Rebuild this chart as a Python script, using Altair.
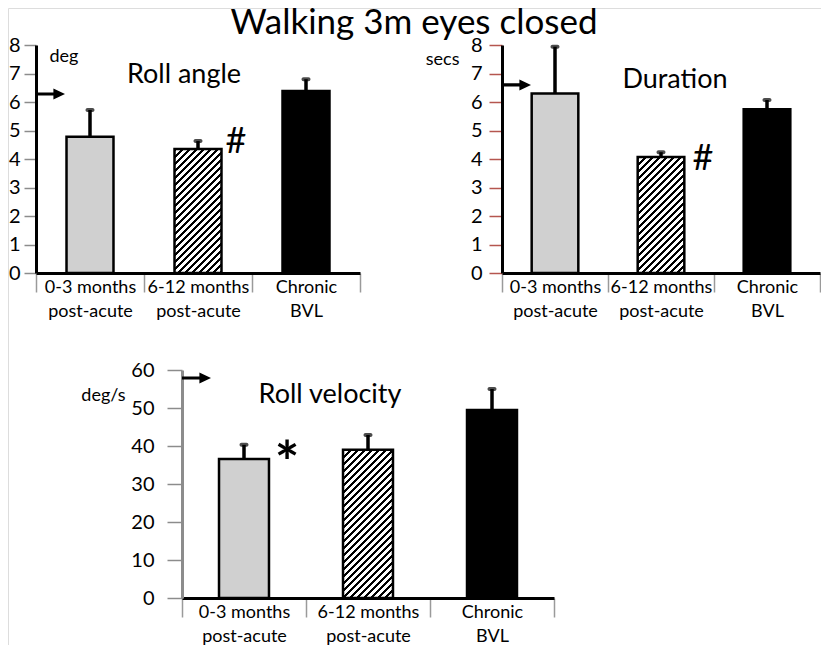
import altair as alt
import pandas as pd

# ---------------- data ----------------
main_title = ["Walking 3m eyes closed"]
categories = ["0-3 months\npost-acute", "6-12 months\npost-acute", "Chronic\nBVL"]
fill_styles = ["dotted", "hatched", "solid"]

roll_angle = [4.78, 4.35, 6.39]
roll_angle_err = [0.94, 0.28, 0.41]
duration = [6.30, 4.07, 5.75]
duration_err = [1.64, 0.17, 0.32]
roll_velocity = [36.6, 39.0, 49.5]
roll_velocity_err = [3.7, 3.9, 5.5]

panel_titles = ["Roll angle", "Duration", "Roll velocity"]
unit_labels = ["deg", "secs", "deg/s"]
axis_max = [8, 8, 60]
axis_step = [1, 1, 10]
arrow_levels = [6.28, 6.6, 57.9]
sig_symbols = ["#", "#", "*"]
sig_bar = [1, 1, 0]

# ---------------- layout / style ----------------
FONT = "Lato"
W, H = 813, 637
ARROW = "M-1,-0.11L0.2,-0.11L0.2,-0.38L1,0L0.2,0.38L0.2,0.11L-1,0.11Z"

panels_cfg = [
    dict(xr=[28, 352], yr=[265, 37], frac=0.435, tick_color="#8c8c8c", dom_color="black",
         ytick=12, ypad=4, tX=13, tY=53, tAlign="left",
         title_dx=-14, title_dy=38, sig_dx=38, sig_dy=4, sig_size=36, sig_weight="normal"),
    dict(xr=[494, 812], yr=[265, 37], frac=0.44, tick_color="#b5564f", dom_color="black",
         ytick=13, ypad=7, tX=-43, tY=56, tAlign="right",
         title_dx=14, title_dy=43, sig_dx=42, sig_dy=13, sig_size=36, sig_weight="normal"),
    dict(xr=[174, 546], yr=[590, 362], frac=0.403, tick_color="#8c8c8c", dom_color="#8c8c8c",
         ytick=15, ypad=13, tX=-57, tY=392, tAlign="right",
         title_dx=-38, title_dy=33, sig_dx=43, sig_dy=24, sig_size=58, sig_weight="bold"),
]


def hatch(w, h, period=7.0, ink=0.4):
    k = (w + h) / (w * w + h * h)
    dt = period / (w + h)
    stops = []
    t = 0.0
    while t < 1.0:
        b = min(t + ink * dt, 1.0)
        c = min(t + dt, 1.0)
        stops += [alt.GradientStop(color="black", offset=round(t, 5)),
                  alt.GradientStop(color="black", offset=round(b, 5)),
                  alt.GradientStop(color="white", offset=round(b, 5)),
                  alt.GradientStop(color="white", offset=round(c, 5))]
        t += dt
    return alt.LinearGradient(gradient="linear", stops=stops, x1=0, y1=0, x2=k * w, y2=k * h)


def make_panel(i, values, errs):
    cfg = panels_cfg[i]
    df = pd.DataFrame({
        "cat": categories,
        "value": values,
        "upper": [v + e for v, e in zip(values, errs)],
        "style": fill_styles,
    })
    xs = alt.Scale(domain=categories, range=cfg["xr"], paddingInner=0, paddingOuter=0)
    ys = alt.Scale(domain=[0, axis_max[i]], range=cfg["yr"], nice=False, zero=True)
    xaxis = alt.Axis(
        orient="bottom", offset=cfg["yr"][0] - H, title=None,
        labelExpr="split(datum.label, '\\n')", labelFont=FONT, labelFontSize=18,
        labelAngle=0, labelAlign="center",
        labelLineHeight=24, labelBaseline="top", labelPadding=-14, labelColor="black",
        labelOverlap=False, tickBand="extent", tickSize=19, tickColor="#9a9a9a", tickWidth=1.5,
        domainColor="black", domainWidth=3, grid=False,
    )
    yaxis = alt.Axis(
        orient="left", offset=-cfg["xr"][0], values=list(range(0, axis_max[i] + 1, axis_step[i])),
        title=unit_labels[i], titleAngle=0, titleX=cfg["tX"], titleY=cfg["tY"],
        titleAlign=cfg["tAlign"], titleBaseline="alphabetic", titleFont=FONT,
        titleFontSize=18, titleFontWeight="normal", titleColor="black",
        labelFont=FONT, labelFontSize=20, labelColor="black", labelPadding=cfg["ypad"],
        tickSize=cfg["ytick"], tickColor=cfg["tick_color"], tickWidth=1.5,
        domainColor=cfg["dom_color"], domainWidth=3, grid=False,
    )

    def X(field="cat", **kw):
        return alt.X(f"{field}:N", sort=categories, scale=xs, axis=xaxis, **kw)

    def Y(field="value"):
        return alt.Y(f"{field}:Q", scale=ys, axis=yaxis)

    base = alt.Chart(df)
    bar_w = alt.RelativeBandSize(cfg["frac"])
    band = (cfg["xr"][1] - cfg["xr"][0]) / len(categories)
    px_per = (cfg["yr"][0] - cfg["yr"][1]) / axis_max[i]
    hatch_fill = hatch(cfg["frac"] * band, values[1] * px_per)

    dotted = base.transform_filter(alt.datum.style == "dotted").mark_bar(
        width=bar_w, fill="#d0d0d0", stroke="black", strokeWidth=2.5).encode(x=X(), y=Y())
    hatched = base.transform_filter(alt.datum.style == "hatched").mark_bar(
        width=bar_w, fill=hatch_fill, stroke="black", strokeWidth=2.5).encode(x=X(), y=Y())
    solid = base.transform_filter(alt.datum.style == "solid").mark_bar(
        width=bar_w, fill="black", stroke="black", strokeWidth=2.5).encode(x=X(), y=Y())
    err = base.mark_rule(color="black", strokeWidth=3.5).encode(
        x=X(), y=Y("value"), y2="upper:Q")
    cap = base.mark_tick(color="black", thickness=4, size=9, cornerRadius=2).encode(
        x=X(), y=Y("upper"))

    arrow_df = pd.DataFrame({"cat": [categories[0]], "level": [arrow_levels[i]]})
    arrow = alt.Chart(arrow_df).mark_point(
        shape=ARROW, filled=True, color="black", opacity=1, size=841, xOffset=14.5, strokeWidth=0
    ).encode(x=X(bandPosition=0), y=Y("level"))

    title_df = pd.DataFrame({"cat": [categories[1]], "label": [panel_titles[i]]})
    ptitle = alt.Chart(title_df).mark_text(
        font=FONT, fontSize=27, color="black", align="center", baseline="alphabetic",
        dx=cfg["title_dx"], dy=cfg["title_dy"]
    ).encode(x=X(), y=alt.Y(datum=axis_max[i], type="quantitative", scale=ys, axis=yaxis),
             text="label:N")

    j = sig_bar[i]
    sig_df = pd.DataFrame({"cat": [categories[j]], "value": [values[j]], "sig": [sig_symbols[i]]})
    sig = alt.Chart(sig_df).mark_text(
        font=FONT, fontSize=cfg["sig_size"], fontWeight=cfg["sig_weight"], color="black",
        align="center", baseline="alphabetic", dx=cfg["sig_dx"], dy=cfg["sig_dy"]
    ).encode(x=X(), y=Y("value"), text="sig:N")

    return alt.layer(dotted, hatched, solid, err, cap, arrow, ptitle, sig)


pA = make_panel(0, roll_angle, roll_angle_err)
pB = make_panel(1, duration, duration_err)
pC = make_panel(2, roll_velocity, roll_velocity_err)

# main heading, centred over the figure
heading = alt.Chart(pd.DataFrame({"t": main_title})).mark_text(
    font=FONT, fontSize=35, color="black", align="center", baseline="alphabetic"
).encode(x=alt.value(W / 2 - 0.5), y=alt.value(26), text="t:N")

chart = (
    alt.layer(pA, pB, pC, heading)
    .resolve_scale(x="independent", y="independent")
    .resolve_axis(x="independent", y="independent")
    .properties(
        width=W, height=H, padding=0,
        autosize=alt.AutoSizeParams(type="none"),
    )
    .configure_view(strokeWidth=0, stroke="transparent")
    .configure(font=FONT)
)

chart.save("out.html", embed_options={"renderer": "svg", "actions": False})
